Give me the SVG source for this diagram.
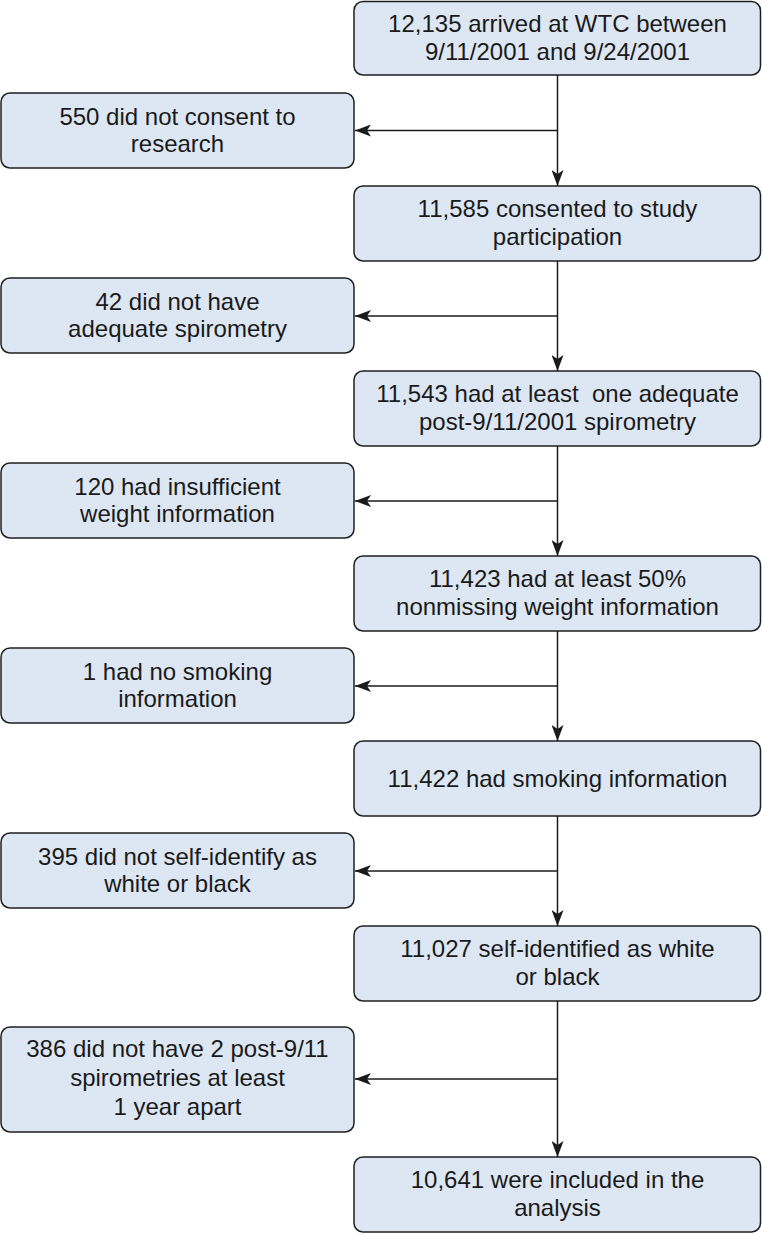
<svg xmlns="http://www.w3.org/2000/svg" width="762" height="1234" viewBox="0 0 762 1234">
<defs>
<marker id="ah" viewBox="0 0 16 12" refX="16" refY="6" markerWidth="16" markerHeight="12" markerUnits="userSpaceOnUse" orient="auto">
<path d="M0,0 L16,6 L0,12 L4,6 Z" fill="#1a1a1a"/>
</marker>
<style>
.box{fill:#dde7f3;stroke:#1f1f1f;stroke-width:1.5}
.t{font-family:"Liberation Sans",Arial,sans-serif;font-size:24px;fill:#1a1a1a;text-anchor:middle}
.c{stroke:#1a1a1a;stroke-width:1.5;fill:none;marker-end:url(#ah)}
</style>
</defs>
<rect width="762" height="1234" fill="#ffffff"/>
<g id="connectors">
<line class="c" x1="557.5" y1="75" x2="557.5" y2="186"/>
<line class="c" x1="557.5" y1="130.5" x2="355" y2="130.5"/>
<line class="c" x1="557.5" y1="261" x2="557.5" y2="371"/>
<line class="c" x1="557.5" y1="316" x2="355" y2="316"/>
<line class="c" x1="557.5" y1="446" x2="557.5" y2="556"/>
<line class="c" x1="557.5" y1="501" x2="355" y2="501"/>
<line class="c" x1="557.5" y1="631" x2="557.5" y2="741"/>
<line class="c" x1="557.5" y1="686" x2="355" y2="686"/>
<line class="c" x1="557.5" y1="816" x2="557.5" y2="926"/>
<line class="c" x1="557.5" y1="871" x2="355" y2="871"/>
<line class="c" x1="557.5" y1="1001" x2="557.5" y2="1157"/>
<line class="c" x1="557.5" y1="1079" x2="355" y2="1079"/>
</g>
<g id="n1"><rect class="box" x="354" y="1.5" width="406.5" height="73.5" rx="9"/><text class="t" x="557.5" y="32">12,135 arrived at WTC between</text><text class="t" x="557.5" y="60">9/11/2001 and 9/24/2001</text></g>
<g id="x1"><rect class="box" x="1" y="93" width="353" height="75" rx="9"/><text class="t" x="177.5" y="125">550 did not consent to</text><text class="t" x="177.5" y="152">research</text></g>
<g id="n2"><rect class="box" x="354" y="186" width="406.5" height="75" rx="9"/><text class="t" x="557.5" y="217">11,585 consented to study</text><text class="t" x="557.5" y="245">participation</text></g>
<g id="x2"><rect class="box" x="1" y="278" width="353" height="75" rx="9"/><text class="t" x="177.5" y="310">42 did not have</text><text class="t" x="177.5" y="337">adequate spirometry</text></g>
<g id="n3"><rect class="box" x="354" y="371" width="406.5" height="75" rx="9"/><text class="t" x="557.5" y="402" xml:space="preserve">11,543 had at least  one adequate</text><text class="t" x="557.5" y="430">post-9/11/2001 spirometry</text></g>
<g id="x3"><rect class="box" x="1" y="463" width="353" height="75" rx="9"/><text class="t" x="177.5" y="495">120 had insufficient</text><text class="t" x="177.5" y="522">weight information</text></g>
<g id="n4"><rect class="box" x="354" y="556" width="406.5" height="75" rx="9"/><text class="t" x="557.5" y="587">11,423 had at least 50%</text><text class="t" x="557.5" y="615">nonmissing weight information</text></g>
<g id="x4"><rect class="box" x="1" y="648" width="353" height="75" rx="9"/><text class="t" x="177.5" y="680">1 had no smoking</text><text class="t" x="177.5" y="707">information</text></g>
<g id="n5"><rect class="box" x="354" y="741" width="406.5" height="75" rx="9"/><text class="t" x="557.5" y="787">11,422 had smoking information</text></g>
<g id="x5"><rect class="box" x="1" y="833" width="353" height="75" rx="9"/><text class="t" x="177.5" y="865">395 did not self-identify as</text><text class="t" x="177.5" y="892">white or black</text></g>
<g id="n6"><rect class="box" x="354" y="926" width="406.5" height="75" rx="9"/><text class="t" x="557.5" y="957">11,027 self-identified as white</text><text class="t" x="557.5" y="985">or black</text></g>
<g id="x6"><rect class="box" x="1" y="1027" width="353" height="105" rx="9"/><text class="t" x="177.5" y="1057">386 did not have 2 post-9/11</text><text class="t" x="177.5" y="1086">spirometries at least</text><text class="t" x="177.5" y="1115">1 year apart</text></g>
<g id="n7"><rect class="box" x="354" y="1157" width="406.5" height="75" rx="9"/><text class="t" x="557.5" y="1188">10,641 were included in the</text><text class="t" x="557.5" y="1216">analysis</text></g>
</svg>
